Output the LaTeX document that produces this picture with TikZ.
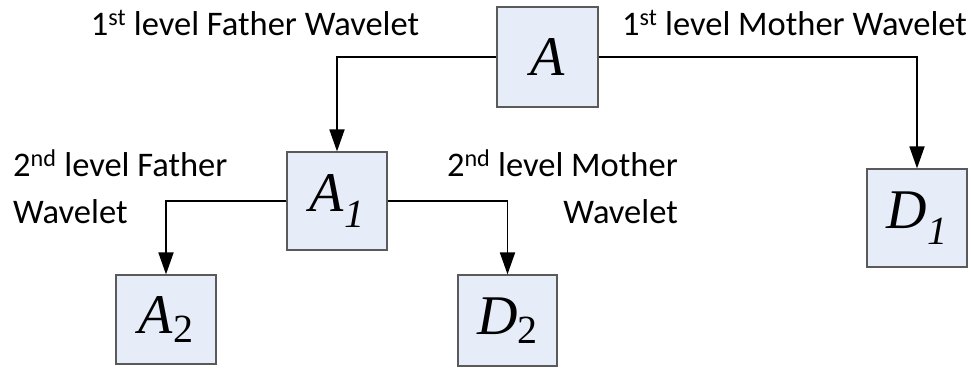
\documentclass[tikz,border=0pt]{standalone}
\usepackage{fontspec}
\setmainfont{Carlito}
\newfontfamily\tms{Liberation Serif}
\usetikzlibrary{arrows.meta}
\definecolor{boxfill}{HTML}{E6ECF8}
\definecolor{boxline}{HTML}{5A5A5A}
\begin{document}
\begin{tikzpicture}[x=1pt,y=-1pt,
  blk/.style={draw=boxline,line width=1.2pt,fill=boxfill,rectangle,inner sep=0pt,
    font=\tms\itshape\fontsize{56}{56}\selectfont},
  conn/.style={line width=1.8pt,-{Triangle[width=15pt,length=22pt]}},
  lbl/.style={inner sep=0pt,font=\fontsize{34.5}{47}\selectfont}]
\useasboundingbox (0,0) rectangle (971,375);
\node[blk,minimum width=101pt,minimum height=100pt] (A) at (547.5,57) {A};
\node[blk,minimum width=100pt,minimum height=98pt] (A1) at (337,201) {A\raisebox{-0.28em}{\fontsize{40}{40}\selectfont 1}};
\node[blk,minimum width=100pt,minimum height=98pt] (D1) at (917,218) {D\raisebox{-0.28em}{\fontsize{40}{40}\selectfont 1}};
\node[blk,minimum width=100pt,minimum height=89pt] (A2) at (166,319.5) {A\raisebox{-0.15em}{\fontsize{40}{40}\selectfont\upshape 2}};
\node[blk,minimum width=99pt,minimum height=91pt] (D2) at (507.5,320.5) {D\raisebox{-0.15em}{\fontsize{40}{40}\selectfont\upshape 2}};
\draw[conn] (A.west) -| (A1.north);
\draw[conn] (A.east) -| (D1.north);
\draw[conn] (A1.west) -| (A2.north);
\draw[conn] (A1.east) -| (D2.north);
\node[lbl,anchor=base] (l1) at (255,35) {1\textsuperscript{st} level Father Wavelet};
\node[lbl,anchor=base] (l2) at (794.5,35) {1\textsuperscript{st} level Mother Wavelet};
\node[lbl,anchor=north west,align=left] (l3) at (13,150) {2\textsuperscript{nd} level Father\\Wavelet};
\node[lbl,anchor=north east,align=right] (l4) at (678,150) {2\textsuperscript{nd} level Mother\\Wavelet};
\end{tikzpicture}
\end{document}
